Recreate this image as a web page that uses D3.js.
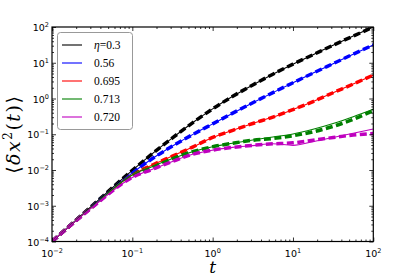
<!DOCTYPE html>
<html>
<head>
<meta charset="utf-8">
<script src="https://cdn.jsdelivr.net/npm/d3@7"></script>
<style>
  body { margin: 0; background: #fff; }
  svg { display: block; }
  .tick text { display: none; }
</style>
</head>
<body>
<svg id="chart" width="415" height="277"></svg>
<script>
// time grid (same for every curve)
const times = [0.01, 0.0316, 0.1, 0.178, 0.316, 0.562, 1, 1.78, 3.16, 5.62, 10, 17.8, 31.6, 56.2, 100];

// theory curves (thin solid lines)
const msdTheory = {
  "0.3":   [1e-4, 1e-3, 0.0098, 0.0288, 0.079, 0.209, 0.513, 1.15, 2.4, 4.79, 9.12, 16.8, 30.9, 55.6, 100],
  "0.56":  [1e-4, 9.5e-4, 0.0083, 0.0209, 0.0468, 0.0977, 0.195, 0.389, 0.759, 1.46, 2.75, 5.13, 9.44, 17.4, 31.6],
  "0.695": [1e-4, 9.3e-4, 0.0074, 0.0138, 0.0245, 0.0437, 0.0813, 0.129, 0.2, 0.302, 0.49, 0.822, 1.45, 2.54, 4.52],
  "0.713": [1e-4, 9.3e-4, 0.0072, 0.0126, 0.0209, 0.0324, 0.0447, 0.056, 0.069, 0.084, 0.102, 0.138, 0.2, 0.31, 0.5],
  "0.720": [1e-4, 9e-4, 0.0062, 0.0105, 0.0174, 0.0275, 0.036, 0.043, 0.048, 0.054, 0.049, 0.062, 0.081, 0.107, 0.141]
};

// simulation curves (thick dashed lines)
const msdSim = {
  "0.3":   [1e-4, 1e-3, 0.0098, 0.0288, 0.079, 0.209, 0.513, 1.15, 2.4, 4.79, 9.12, 16.8, 30.9, 55.6, 100],
  "0.56":  [1e-4, 9.5e-4, 0.0083, 0.0209, 0.0468, 0.0977, 0.195, 0.389, 0.759, 1.46, 2.75, 5.13, 9.44, 17.4, 31.6],
  "0.695": [1e-4, 9.3e-4, 0.0074, 0.0138, 0.0245, 0.0437, 0.0813, 0.129, 0.2, 0.302, 0.49, 0.822, 1.45, 2.54, 4.52],
  "0.713": [1e-4, 9.3e-4, 0.0072, 0.0126, 0.0209, 0.0324, 0.0447, 0.056, 0.068, 0.076, 0.091, 0.117, 0.166, 0.263, 0.457],
  "0.720": [1e-4, 9e-4, 0.0062, 0.0105, 0.0174, 0.0275, 0.036, 0.043, 0.049, 0.054, 0.0575, 0.068, 0.081, 0.095, 0.105]
};

const etas = ["0.3", "0.56", "0.695", "0.713", "0.720"];
const legendLabels = ["\u03b7=0.3", "0.56", "0.695", "0.713", "0.720"];
const colors = ["#000000", "#0000ff", "#ff0000", "#008000", "#bf00bf"];

const xDecades = [0.01, 0.1, 1, 10, 100];
const yDecades = [1e-4, 1e-3, 1e-2, 1e-1, 1, 10, 100];
const xExp = ["\u22122", "\u22121", "0", "1", "2"];
const yExp = ["\u22124", "\u22123", "\u22122", "\u22121", "0", "1", "2"];

const plotLeft = 52, plotRight = 373.3, plotTop = 27, plotBottom = 241.5;

const svg = d3.select("#chart");

const x = d3.scaleLog().domain([1e-2, 1e2]).range([plotLeft, plotRight]);
const y = d3.scaleLog().domain([1e-4, 1e2]).range([plotBottom, plotTop]);

function minors(decades) {
  let out = [];
  decades.slice(0, -1).forEach(d => {
    for (let k = 2; k <= 9; k++) out.push(d * k);
  });
  return out;
}

// clip so thick dashes do not spill over the frame
svg.append("clipPath").attr("id", "clip")
  .append("rect")
  .attr("x", plotLeft).attr("y", plotTop)
  .attr("width", plotRight - plotLeft).attr("height", plotBottom - plotTop);

const plot = svg.append("g").attr("clip-path", "url(#clip)");

const line = d3.line()
  .x(d => x(d[0]))
  .y(d => y(d[1]))
  .curve(d3.curveMonotoneX);

etas.forEach((eta, i) => {
  let pts = times.map((t, j) => [t, msdSim[eta][j]]);
  plot.append("path")
    .attr("d", line(pts))
    .attr("fill", "none")
    .attr("stroke", colors[i])
    .attr("stroke-width", 3.5)
    .attr("stroke-dasharray", "7,3.5");
});

etas.forEach((eta, i) => {
  let pts = times.map((t, j) => [t, msdTheory[eta][j]]);
  plot.append("path")
    .attr("d", line(pts))
    .attr("fill", "none")
    .attr("stroke", colors[i])
    .attr("stroke-width", 1.1);
});

// ticks on all four sides, pointing inward
function addAxis(axisFn, scale, transform, values, size) {
  let g = svg.append("g")
    .attr("transform", transform)
    .call(axisFn(scale).tickValues(values).tickSize(-size).tickFormat(""));
  g.select(".domain").remove();
  g.selectAll("line").attr("stroke", "#000").attr("stroke-width", 0.8);
}

addAxis(d3.axisBottom, x, `translate(0,${plotBottom})`, xDecades, 4);
addAxis(d3.axisBottom, x, `translate(0,${plotBottom})`, minors(xDecades), 2);
addAxis(d3.axisTop, x, `translate(0,${plotTop})`, xDecades, 4);
addAxis(d3.axisTop, x, `translate(0,${plotTop})`, minors(xDecades), 2);
addAxis(d3.axisLeft, y, `translate(${plotLeft},0)`, yDecades, 4);
addAxis(d3.axisLeft, y, `translate(${plotLeft},0)`, minors(yDecades), 2);
addAxis(d3.axisRight, y, `translate(${plotRight},0)`, yDecades, 4);
addAxis(d3.axisRight, y, `translate(${plotRight},0)`, minors(yDecades), 2);

svg.append("rect")
  .attr("x", plotLeft).attr("y", plotTop)
  .attr("width", plotRight - plotLeft).attr("height", plotBottom - plotTop)
  .attr("fill", "none")
  .attr("stroke", "#000")
  .attr("stroke-width", 1.2);

// tick labels like 10^-2
const tickFont = "DejaVu Sans";

xDecades.forEach((d, i) => {
  let t = svg.append("text")
    .attr("x", x(d))
    .attr("y", plotBottom + 15)
    .attr("text-anchor", "middle")
    .attr("font-family", tickFont)
    .attr("font-size", 9.5)
    .attr("fill", "#000");
  t.append("tspan").text("10");
  t.append("tspan").attr("dy", -4).attr("font-size", 6.5).text(xExp[i]);
});

yDecades.forEach((d, i) => {
  let t = svg.append("text")
    .attr("x", plotLeft - 3)
    .attr("y", y(d) + 4)
    .attr("text-anchor", "end")
    .attr("font-family", tickFont)
    .attr("font-size", 9.5)
    .attr("fill", "#000");
  t.append("tspan").text("10");
  t.append("tspan").attr("dy", -4).attr("font-size", 6.5).text(yExp[i]);
});

// axis titles
svg.append("text")
  .attr("x", (plotLeft + plotRight) / 2)
  .attr("y", 273)
  .attr("text-anchor", "middle")
  .attr("font-family", "DejaVu Serif")
  .attr("font-style", "italic")
  .attr("font-size", 17)
  .text("t");

let yt = svg.append("text")
  .attr("transform", `translate(20,${(plotTop + plotBottom) / 2}) rotate(-90)`)
  .attr("text-anchor", "middle")
  .attr("font-family", "DejaVu Serif")
  .attr("font-size", 19)
  .attr("letter-spacing", 1.5);
yt.append("tspan").text("\u27e8");
yt.append("tspan").attr("font-style", "italic").text("\u03b4x");
yt.append("tspan").attr("dy", -8).attr("font-size", 12).text("2");
yt.append("tspan").attr("dy", 8).text("(");
yt.append("tspan").attr("font-style", "italic").text("t");
yt.append("tspan").text(")\u27e9");

// legend
const legend = svg.append("g");
legend.append("rect")
  .attr("x", 57.5).attr("y", 32.5)
  .attr("width", 75).attr("height", 97)
  .attr("rx", 3)
  .attr("fill", "#fff")
  .attr("stroke", "#999")
  .attr("stroke-width", 1);

const ly = d3.scalePoint().domain(etas).range([45, 117]);

etas.forEach((eta, i) => {
  legend.append("line")
    .attr("x1", 62).attr("x2", 82)
    .attr("y1", ly(eta)).attr("y2", ly(eta))
    .attr("stroke", colors[i])
    .attr("stroke-width", 1.1);
  let lt = legend.append("text")
    .attr("x", 94)
    .attr("y", ly(eta) + 4)
    .attr("font-family", "Liberation Serif")
    .attr("font-size", 11.5)
    .attr("fill", "#000");
  if (i === 0) {
    lt.append("tspan").attr("font-style", "italic").text("\u03b7");
    lt.append("tspan").text("=0.3");
  } else {
    lt.text(legendLabels[i]);
  }
});
</script>
</body>
</html>
